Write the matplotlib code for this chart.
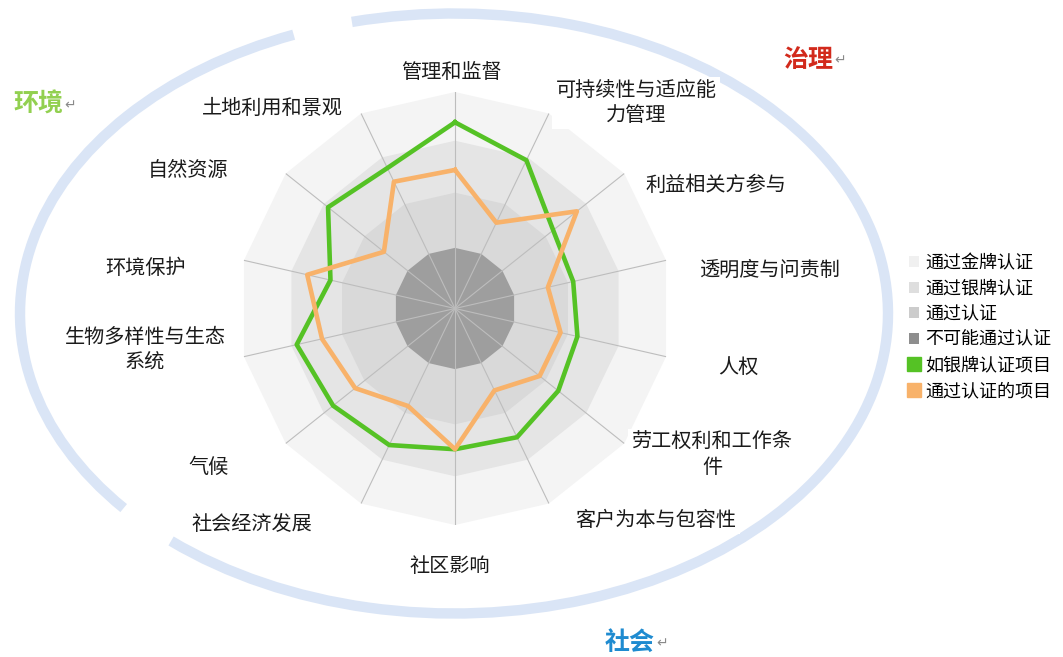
import numpy as np
import matplotlib
matplotlib.use("Agg")
import matplotlib.pyplot as plt
from matplotlib.patches import Arc, Patch
from matplotlib.lines import Line2D

plt.rcParams['font.family'] = ['Noto Sans CJK SC', 'DejaVu Sans']

# 维度（从正上方顺时针）
categories = ['管理和监督', '可持续性与适应能\n力管理', '利益相关方参与', '透明度与问责制',
              '人权', '劳工权利和工作条\n件', '客户为本与包容性', '社区影响',
              '社会经济发展', '气候', '生物多样性与生态\n系统', '环境保护',
              '自然资源', '土地利用和景观']

# 项目得分（0-100）
silver_project = [86, 76, 58, 56, 58, 61, 66, 65, 70, 72, 75, 59, 75, 72]
certified_project = [64, 44, 72, 44, 50, 50, 42, 65, 50, 59, 63, 70, 42, 65]

# 认证等级的分界
band_names = ['通过金牌认证', '通过银牌认证', '通过认证', '不可能通过认证']
band_levels = [100, 77.5, 53.5, 28]
band_colors = ['#f4f4f4', '#e5e5e5', '#d9d9d9', '#9e9e9e']
legend_swatch = ['#f0f0f0', '#dedede', '#cccccc', '#8e8e8e']

series_names = ['如银牌认证项目', '通过认证的项目']
series_colors = ['#55c225', '#f8b26a']

groups = ['治理', '环境', '社会']
group_colors = ['#d22a1c', '#92d050', '#1f8bd0']

W, H = 1063, 657
fig = plt.figure(figsize=(W / 100, H / 100), dpi=100)

# 雷达图
cx, cy, R = 455, 308.5, 216.5
ax = fig.add_axes([(cx - R) / W, (H - cy - R) / H, 2 * R / W, 2 * R / H], projection='polar')
ax.set_theta_zero_location('N')
ax.set_theta_direction(-1)
n = len(categories)
theta = np.linspace(0, 2 * np.pi, n, endpoint=False)
tc = np.append(theta, theta[0])

for lev, col in zip(band_levels, band_colors):
    ax.fill(tc, [lev] * (n + 1), color=col, lw=0, zorder=1)

ax.plot(tc, silver_project + silver_project[:1], color=series_colors[0], lw=3.3, zorder=3)
ax.plot(tc, certified_project + certified_project[:1], color=series_colors[1], lw=3.3, zorder=3)

ax.set_ylim(0, 100)
ax.set_thetagrids(np.degrees(theta), [''] * n)
ax.set_rgrids([])
ax.xaxis.grid(True, color='#bdbdbd', lw=0.8)
ax.yaxis.grid(False)
ax.spines['polar'].set_visible(False)
ax.patch.set_alpha(0)

# 覆盖层：外环、标签、分组标题
ov = fig.add_axes([0, 0, 1, 1])
ov.set_xlim(0, W)
ov.set_ylim(0, H)
ov.axis('off')
ov.patch.set_alpha(0)

ring = dict(width=868, height=600, color='#dae5f6', lw=7.5)
ov.add_patch(Arc((454, H - 313.5), theta1=119.9, theta2=210.5, **ring))
ov.add_patch(Arc((454, H - 313.5), theta1=218.8, theta2=469.3, **ring))

label_pos = [(451, 73), (636, 103), (716, 185), (770, 270), (738, 367), (712, 455),
             (656, 520), (450, 567), (252, 524), (209, 467), (145, 350), (145, 269),
             (188, 170), (272, 108)]
for lab, (x, y) in zip(categories, label_pos):
    ov.text(x, H - y, lab, ha='center', va='center', fontsize=14.5, color='#1a1a1a',
            linespacing=1.25, zorder=5,
            bbox=dict(boxstyle='square,pad=0.15', fc='white', ec='none'))

group_pos = [(808, 60), (38, 105), (630, 643)]
for g, c, (x, y) in zip(groups, group_colors, group_pos):
    ov.text(x, H - y, g, ha='center', va='center', fontsize=18, fontweight='bold', color=c)
    ov.text(x + 26, H - y, '↵', ha='left', va='center', fontsize=10, color='#8a8a8a')

# 图例
handles = [Patch(facecolor=c, edgecolor='none') for c in legend_swatch]
handles += [Line2D([], [], ls='none', marker='s', markersize=9.5, markerfacecolor=c,
                   markeredgecolor=c) for c in series_colors]
fig.legend(handles, band_names + series_names, loc='upper left',
           bbox_to_anchor=(900 / W, 1 - 245 / H), frameon=False, fontsize=13,
           handlelength=0.55, handleheight=0.55, handletextpad=0.35, labelspacing=0.42,
           borderpad=0)

fig.savefig('out.png', dpi=100)
